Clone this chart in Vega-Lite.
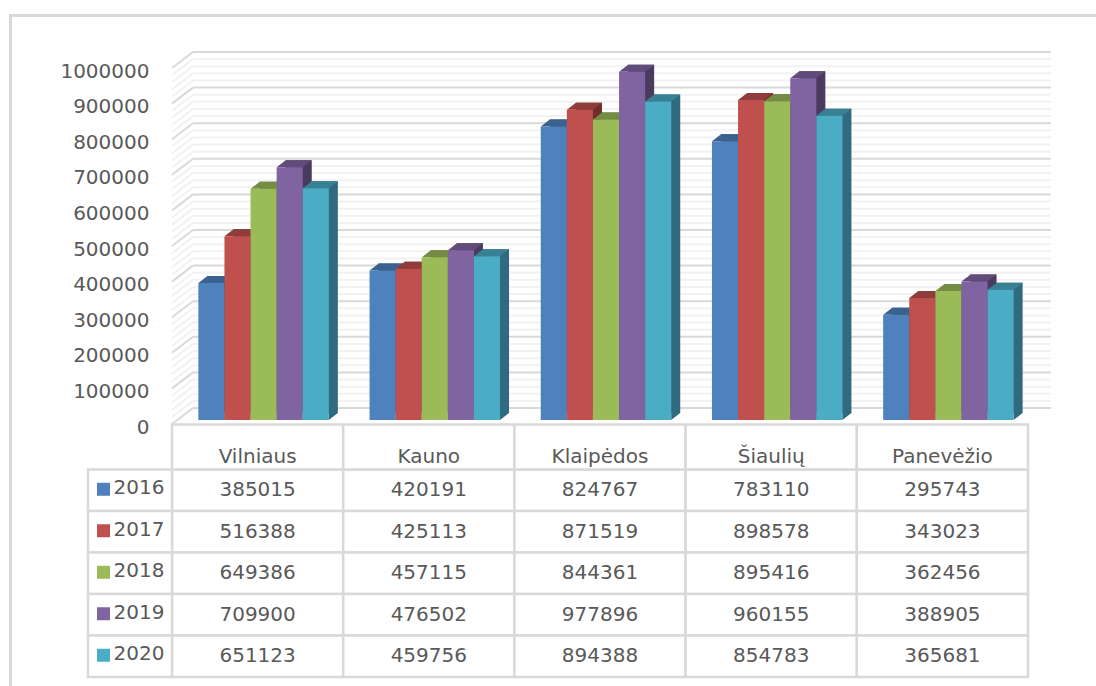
{"$schema":"https://vega.github.io/schema/vega-lite/v6.json","width":1096,"height":686,"padding":0,"autosize":{"type":"none"},"background":"white","config":{"view":{"stroke":null}},
"datasets":{
"vals":[
{"city":"Vilniaus","year":"2016","v":385015},{"city":"Kauno","year":"2016","v":420191},{"city":"Klaipėdos","year":"2016","v":824767},{"city":"Šiaulių","year":"2016","v":783110},{"city":"Panevėžio","year":"2016","v":295743},
{"city":"Vilniaus","year":"2017","v":516388},{"city":"Kauno","year":"2017","v":425113},{"city":"Klaipėdos","year":"2017","v":871519},{"city":"Šiaulių","year":"2017","v":898578},{"city":"Panevėžio","year":"2017","v":343023},
{"city":"Vilniaus","year":"2018","v":649386},{"city":"Kauno","year":"2018","v":457115},{"city":"Klaipėdos","year":"2018","v":844361},{"city":"Šiaulių","year":"2018","v":895416},{"city":"Panevėžio","year":"2018","v":362456},
{"city":"Vilniaus","year":"2019","v":709900},{"city":"Kauno","year":"2019","v":476502},{"city":"Klaipėdos","year":"2019","v":977896},{"city":"Šiaulių","year":"2019","v":960155},{"city":"Panevėžio","year":"2019","v":388905},
{"city":"Vilniaus","year":"2020","v":651123},{"city":"Kauno","year":"2020","v":459756},{"city":"Klaipėdos","year":"2020","v":894388},{"city":"Šiaulių","year":"2020","v":854783},{"city":"Panevėžio","year":"2020","v":365681}],
"cities":[{"city":"Vilniaus"},{"city":"Kauno"},{"city":"Klaipėdos"},{"city":"Šiaulių"},{"city":"Panevėžio"}],
"years":[{"year":"2016"},{"year":"2017"},{"year":"2018"},{"year":"2019"},{"year":"2020"}],
"major":[{"g":0,"b":44944},{"g":100000,"b":144944},{"g":200000,"b":244944},{"g":300000,"b":344944},{"g":400000,"b":444944},{"g":500000,"b":544944},{"g":600000,"b":644944},{"g":700000,"b":744944},{"g":800000,"b":844944},{"g":900000,"b":944944},{"g":1000000,"b":1044944}],
"minor":[{"g":20000,"b":64944},{"g":40000,"b":84944},{"g":60000,"b":104944},{"g":80000,"b":124944},{"g":120000,"b":164944},{"g":140000,"b":184944},{"g":160000,"b":204944},{"g":180000,"b":224944},{"g":220000,"b":264944},{"g":240000,"b":284944},{"g":260000,"b":304944},{"g":280000,"b":324944},{"g":320000,"b":364944},{"g":340000,"b":384944},{"g":360000,"b":404944},{"g":380000,"b":424944},{"g":420000,"b":464944},{"g":440000,"b":484944},{"g":460000,"b":504944},{"g":480000,"b":524944},{"g":520000,"b":564944},{"g":540000,"b":584944},{"g":560000,"b":604944},{"g":580000,"b":624944},{"g":620000,"b":664944},{"g":640000,"b":684944},{"g":660000,"b":704944},{"g":680000,"b":724944},{"g":720000,"b":764944},{"g":740000,"b":784944},{"g":760000,"b":804944},{"g":780000,"b":824944},{"g":820000,"b":864944},{"g":840000,"b":884944},{"g":860000,"b":904944},{"g":880000,"b":924944},{"g":920000,"b":964944},{"g":940000,"b":984944},{"g":960000,"b":1004944},{"g":980000,"b":1024944}]},
"resolve":{"scale":{"x":"independent","y":"independent","color":"independent","xOffset":"independent"},"axis":{"x":"independent","y":"independent"}},
"layer":[
{"data":{"values":[{}]},"mark":{"type":"rect","fill":"transparent","stroke":"#d9d9d9","strokeWidth":3},"encoding":{"x":{"datum":0,"type":"quantitative","scale":{"domain":[0,1],"range":[10.5,1110],"zero":false},"axis":null},"x2":{"datum":1},"y":{"datum":0,"type":"quantitative","scale":{"domain":[0,1],"range":[15.5,700],"zero":false},"axis":null},"y2":{"datum":1}}},
{"data":{"name":"minor"},"mark":{"type":"rule","color":"#f2f2f2","strokeWidth":2},"encoding":{"x":{"datum":0,"type":"quantitative","scale":{"domain":[0,1],"range":[193,1051],"zero":false},"axis":null},"x2":{"datum":1},"y":{"field":"g","type":"quantitative","scale":{"domain":[0,1000000],"range":[408,52]},"axis":null}}},
{"data":{"name":"minor"},"mark":{"type":"rule","color":"#f2f2f2","strokeWidth":2},"encoding":{"x":{"datum":0,"type":"quantitative","scale":{"domain":[0,1],"range":[172,193],"zero":false},"axis":null},"x2":{"datum":1},"y":{"field":"g","type":"quantitative","scale":{"domain":[0,1000000],"range":[424,68]},"axis":null},"y2":{"field":"b"}}},
{"data":{"name":"major"},"mark":{"type":"rule","color":"#d9d9d9","strokeWidth":2},"encoding":{"x":{"datum":0,"type":"quantitative","scale":{"domain":[0,1],"range":[193,1051],"zero":false},"axis":null},"x2":{"datum":1},"y":{"field":"g","type":"quantitative","scale":{"domain":[0,1000000],"range":[408,52]},"axis":null}}},
{"data":{"name":"major"},"mark":{"type":"rule","color":"#d9d9d9","strokeWidth":2},"encoding":{"x":{"datum":0,"type":"quantitative","scale":{"domain":[0,1],"range":[172,193],"zero":false},"axis":null},"x2":{"datum":1},"y":{"field":"g","type":"quantitative","scale":{"domain":[0,1000000],"range":[424,68]},"axis":{"title":null,"offset":-151,"ticks":false,"domain":false,"grid":false,"labelPadding":2,"labelOffset":3,"labelFont":"DejaVu Sans","labelFontSize":20,"labelColor":"#595959","format":"d","values":[0,100000,200000,300000,400000,500000,600000,700000,800000,900000,1000000],"labelOverlap":false,"labelFlush":false}},"y2":{"field":"b"}}},
{"data":{"name":"vals"},"transform":[{"filter":"datum.year=='2016'"}],"mark":{"type":"bar","color":"#2f4d71"},"encoding":{"x":{"field":"city","type":"nominal","sort":null,"scale":{"domain":["Vilniaus","Kauno","Klaipėdos","Šiaulių","Panevėžio"],"range":[187,1043],"paddingInner":0,"paddingOuter":0},"axis":null},"xOffset":{"field":"year","type":"nominal","scale":{"domain":["2016","2017","2018","2019","2020"],"paddingInner":0,"paddingOuter":0.78}},"y":{"field":"v","type":"quantitative","stack":null,"scale":{"domain":[0,1000000],"range":[413,57]},"axis":null}}},
{"data":{"name":"vals"},"transform":[{"filter":"datum.year=='2016'"}],"encoding":{"x":{"field":"city","type":"nominal","sort":null,"scale":{"domain":["Vilniaus","Kauno","Klaipėdos","Šiaulių","Panevėžio"],"range":[178,1034],"paddingInner":0,"paddingOuter":0},"axis":null},"xOffset":{"field":"year","type":"nominal","scale":{"domain":["2016","2017","2018","2019","2020"],"paddingInner":0,"paddingOuter":0.78}},"y":{"field":"v","type":"quantitative","stack":null,"scale":{"domain":[0,1000000],"range":[420,64]},"axis":null}},"layer":[
{"mark":{"type":"point","filled":true,"opacity":1,"size":4,"strokeWidth":0,"color":"#2f4d71","shape":"M13,0L22,-7L13,-7Z"},"encoding":{"y":{"datum":0}}},
{"mark":{"type":"point","filled":true,"opacity":1,"size":4,"strokeWidth":0,"color":"#3b618e","shape":"M-13,0L13,0L22,-7L-4,-7Z"}},
{"mark":{"type":"bar","color":"#4f81bd"}}]},
{"data":{"name":"vals"},"transform":[{"filter":"datum.year=='2017'"}],"mark":{"type":"bar","color":"#6f2e2c"},"encoding":{"x":{"field":"city","type":"nominal","sort":null,"scale":{"domain":["Vilniaus","Kauno","Klaipėdos","Šiaulių","Panevėžio"],"range":[187,1043],"paddingInner":0,"paddingOuter":0},"axis":null},"xOffset":{"field":"year","type":"nominal","scale":{"domain":["2016","2017","2018","2019","2020"],"paddingInner":0,"paddingOuter":0.78}},"y":{"field":"v","type":"quantitative","stack":null,"scale":{"domain":[0,1000000],"range":[413,57]},"axis":null}}},
{"data":{"name":"vals"},"transform":[{"filter":"datum.year=='2017'"}],"encoding":{"x":{"field":"city","type":"nominal","sort":null,"scale":{"domain":["Vilniaus","Kauno","Klaipėdos","Šiaulių","Panevėžio"],"range":[178,1034],"paddingInner":0,"paddingOuter":0},"axis":null},"xOffset":{"field":"year","type":"nominal","scale":{"domain":["2016","2017","2018","2019","2020"],"paddingInner":0,"paddingOuter":0.78}},"y":{"field":"v","type":"quantitative","stack":null,"scale":{"domain":[0,1000000],"range":[420,64]},"axis":null}},"layer":[
{"mark":{"type":"point","filled":true,"opacity":1,"size":4,"strokeWidth":0,"color":"#6f2e2c","shape":"M13,0L22,-7L13,-7Z"},"encoding":{"y":{"datum":0}}},
{"mark":{"type":"point","filled":true,"opacity":1,"size":4,"strokeWidth":0,"color":"#903c3a","shape":"M-13,0L13,0L22,-7L-4,-7Z"}},
{"mark":{"type":"bar","color":"#c0504d"}}]},
{"data":{"name":"vals"},"transform":[{"filter":"datum.year=='2018'"}],"mark":{"type":"bar","color":"#596c33"},"encoding":{"x":{"field":"city","type":"nominal","sort":null,"scale":{"domain":["Vilniaus","Kauno","Klaipėdos","Šiaulių","Panevėžio"],"range":[187,1043],"paddingInner":0,"paddingOuter":0},"axis":null},"xOffset":{"field":"year","type":"nominal","scale":{"domain":["2016","2017","2018","2019","2020"],"paddingInner":0,"paddingOuter":0.78}},"y":{"field":"v","type":"quantitative","stack":null,"scale":{"domain":[0,1000000],"range":[413,57]},"axis":null}}},
{"data":{"name":"vals"},"transform":[{"filter":"datum.year=='2018'"}],"encoding":{"x":{"field":"city","type":"nominal","sort":null,"scale":{"domain":["Vilniaus","Kauno","Klaipėdos","Šiaulių","Panevėžio"],"range":[178,1034],"paddingInner":0,"paddingOuter":0},"axis":null},"xOffset":{"field":"year","type":"nominal","scale":{"domain":["2016","2017","2018","2019","2020"],"paddingInner":0,"paddingOuter":0.78}},"y":{"field":"v","type":"quantitative","stack":null,"scale":{"domain":[0,1000000],"range":[420,64]},"axis":null}},"layer":[
{"mark":{"type":"point","filled":true,"opacity":1,"size":4,"strokeWidth":0,"color":"#596c33","shape":"M13,0L22,-7L13,-7Z"},"encoding":{"y":{"datum":0}}},
{"mark":{"type":"point","filled":true,"opacity":1,"size":4,"strokeWidth":0,"color":"#748c43","shape":"M-13,0L13,0L22,-7L-4,-7Z"}},
{"mark":{"type":"bar","color":"#9bbb59"}}]},
{"data":{"name":"vals"},"transform":[{"filter":"datum.year=='2019'"}],"mark":{"type":"bar","color":"#4a3a5e"},"encoding":{"x":{"field":"city","type":"nominal","sort":null,"scale":{"domain":["Vilniaus","Kauno","Klaipėdos","Šiaulių","Panevėžio"],"range":[187,1043],"paddingInner":0,"paddingOuter":0},"axis":null},"xOffset":{"field":"year","type":"nominal","scale":{"domain":["2016","2017","2018","2019","2020"],"paddingInner":0,"paddingOuter":0.78}},"y":{"field":"v","type":"quantitative","stack":null,"scale":{"domain":[0,1000000],"range":[413,57]},"axis":null}}},
{"data":{"name":"vals"},"transform":[{"filter":"datum.year=='2019'"}],"encoding":{"x":{"field":"city","type":"nominal","sort":null,"scale":{"domain":["Vilniaus","Kauno","Klaipėdos","Šiaulių","Panevėžio"],"range":[178,1034],"paddingInner":0,"paddingOuter":0},"axis":null},"xOffset":{"field":"year","type":"nominal","scale":{"domain":["2016","2017","2018","2019","2020"],"paddingInner":0,"paddingOuter":0.78}},"y":{"field":"v","type":"quantitative","stack":null,"scale":{"domain":[0,1000000],"range":[420,64]},"axis":null}},"layer":[
{"mark":{"type":"point","filled":true,"opacity":1,"size":4,"strokeWidth":0,"color":"#4a3a5e","shape":"M13,0L22,-7L13,-7Z"},"encoding":{"y":{"datum":0}}},
{"mark":{"type":"point","filled":true,"opacity":1,"size":4,"strokeWidth":0,"color":"#604b7a","shape":"M-13,0L13,0L22,-7L-4,-7Z"}},
{"mark":{"type":"bar","color":"#8064a2"}}]},
{"data":{"name":"vals"},"transform":[{"filter":"datum.year=='2020'"}],"mark":{"type":"bar","color":"#2f6a7e"},"encoding":{"x":{"field":"city","type":"nominal","sort":null,"scale":{"domain":["Vilniaus","Kauno","Klaipėdos","Šiaulių","Panevėžio"],"range":[187,1043],"paddingInner":0,"paddingOuter":0},"axis":null},"xOffset":{"field":"year","type":"nominal","scale":{"domain":["2016","2017","2018","2019","2020"],"paddingInner":0,"paddingOuter":0.78}},"y":{"field":"v","type":"quantitative","stack":null,"scale":{"domain":[0,1000000],"range":[413,57]},"axis":null}}},
{"data":{"name":"vals"},"transform":[{"filter":"datum.year=='2020'"}],"encoding":{"x":{"field":"city","type":"nominal","sort":null,"scale":{"domain":["Vilniaus","Kauno","Klaipėdos","Šiaulių","Panevėžio"],"range":[178,1034],"paddingInner":0,"paddingOuter":0},"axis":null},"xOffset":{"field":"year","type":"nominal","scale":{"domain":["2016","2017","2018","2019","2020"],"paddingInner":0,"paddingOuter":0.78}},"y":{"field":"v","type":"quantitative","stack":null,"scale":{"domain":[0,1000000],"range":[420,64]},"axis":null}},"layer":[
{"mark":{"type":"point","filled":true,"opacity":1,"size":4,"strokeWidth":0,"color":"#2f6a7e","shape":"M13,0L22,-7L13,-7Z"},"encoding":{"y":{"datum":0}}},
{"mark":{"type":"point","filled":true,"opacity":1,"size":4,"strokeWidth":0,"color":"#388194","shape":"M-13,0L13,0L22,-7L-4,-7Z"}},
{"mark":{"type":"bar","color":"#4bacc6"}}]},
{"data":{"name":"vals"},"mark":{"type":"rect","fill":"white","stroke":"#d9d9d9","strokeWidth":2.5},"encoding":{"x":{"field":"city","type":"nominal","sort":null,"scale":{"domain":["Vilniaus","Kauno","Klaipėdos","Šiaulių","Panevėžio"],"range":[172,1028],"paddingInner":0,"paddingOuter":0},"axis":null},"y":{"field":"year","type":"nominal","scale":{"domain":["2016","2017","2018","2019","2020"],"range":[469.5,677],"paddingInner":0,"paddingOuter":0},"axis":null}}},
{"data":{"name":"cities"},"mark":{"type":"rect","fill":"white","stroke":"#d9d9d9","strokeWidth":2.5},"encoding":{"x":{"field":"city","type":"nominal","sort":null,"scale":{"domain":["Vilniaus","Kauno","Klaipėdos","Šiaulių","Panevėžio"],"range":[172,1028],"paddingInner":0,"paddingOuter":0},"axis":null},"y":{"datum":0,"type":"quantitative","scale":{"domain":[0,1],"range":[424.5,469.5],"zero":false},"axis":null},"y2":{"datum":1}}},
{"data":{"name":"years"},"mark":{"type":"rect","fill":"white","stroke":"#d9d9d9","strokeWidth":2.5},"encoding":{"x":{"datum":0,"type":"quantitative","scale":{"domain":[0,1],"range":[88,172],"zero":false},"axis":null},"x2":{"datum":1},"y":{"field":"year","type":"nominal","scale":{"domain":["2016","2017","2018","2019","2020"],"range":[469.5,677],"paddingInner":0,"paddingOuter":0},"axis":null}}},
{"data":{"name":"vals"},"mark":{"type":"text","font":"DejaVu Sans","fontSize":20,"color":"#595959","align":"center","baseline":"middle"},"encoding":{"x":{"field":"city","type":"nominal","sort":null,"scale":{"domain":["Vilniaus","Kauno","Klaipėdos","Šiaulių","Panevėžio"],"range":[172,1028],"paddingInner":0,"paddingOuter":0},"axis":null},"y":{"field":"year","type":"nominal","scale":{"domain":["2016","2017","2018","2019","2020"],"range":[469.5,677],"paddingInner":0,"paddingOuter":0},"axis":null},"text":{"field":"v","type":"quantitative","format":"d"}}},
{"data":{"name":"cities"},"mark":{"type":"text","font":"DejaVu Sans","fontSize":20,"color":"#595959","align":"center","baseline":"middle"},"encoding":{"x":{"field":"city","type":"nominal","sort":null,"scale":{"domain":["Vilniaus","Kauno","Klaipėdos","Šiaulių","Panevėžio"],"range":[172,1028],"paddingInner":0,"paddingOuter":0},"axis":null},"y":{"datum":0.5,"type":"quantitative","scale":{"domain":[0,1],"range":[444,470],"zero":false},"axis":null},"text":{"field":"city","type":"nominal"}}},
{"data":{"name":"years"},"mark":{"type":"text","font":"DejaVu Sans","fontSize":20,"color":"#595959","align":"center","baseline":"middle","yOffset":-2},"encoding":{"x":{"datum":0.5,"type":"quantitative","scale":{"domain":[0,1],"range":[114,164],"zero":false},"axis":null},"y":{"field":"year","type":"nominal","scale":{"domain":["2016","2017","2018","2019","2020"],"range":[469.5,677],"paddingInner":0,"paddingOuter":0},"axis":null},"text":{"field":"year","type":"nominal"}}},
{"data":{"name":"years"},"mark":{"type":"square","size":169,"opacity":1,"yOffset":-1},"encoding":{"x":{"datum":0.5,"type":"quantitative","scale":{"domain":[0,1],"range":[97,110],"zero":false},"axis":null},"y":{"field":"year","type":"nominal","scale":{"domain":["2016","2017","2018","2019","2020"],"range":[469.5,677],"paddingInner":0,"paddingOuter":0},"axis":null},"color":{"field":"year","type":"nominal","legend":null,"scale":{"domain":["2016","2017","2018","2019","2020"],"range":["#4f81bd","#c0504d","#9bbb59","#8064a2","#4bacc6"]}}}}
]}
